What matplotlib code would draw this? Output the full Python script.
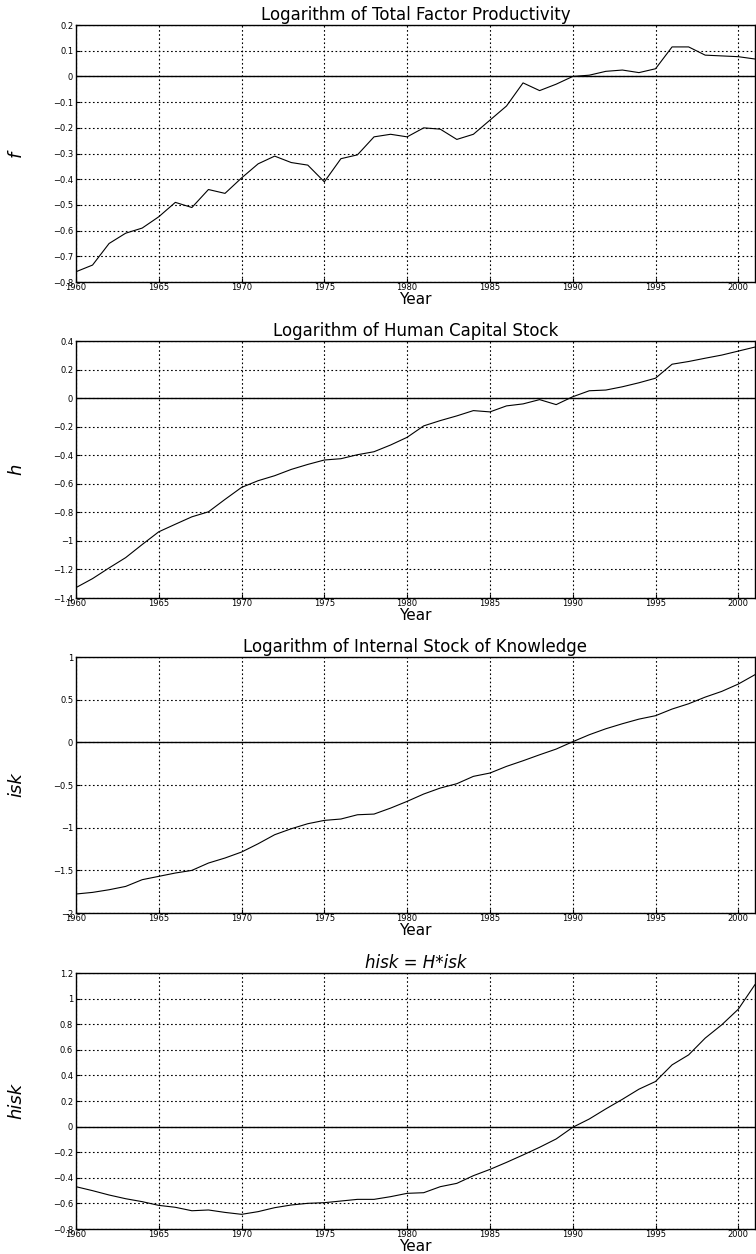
import numpy as np
import matplotlib
matplotlib.use('Agg')
import matplotlib.pyplot as plt
from matplotlib.ticker import FuncFormatter

# years (annual data 1960-2001)
years = list(range(1960, 2002))

# log of total factor productivity
f = [-0.76, -0.734, -0.65, -0.61, -0.59, -0.546, -0.49, -0.51, -0.44, -0.455,
     -0.395, -0.34, -0.31, -0.335, -0.345, -0.41, -0.32, -0.305, -0.235, -0.225,
     -0.235, -0.20, -0.205, -0.245, -0.225, -0.17, -0.115, -0.025, -0.055, -0.03,
     0.0, 0.005, 0.02, 0.025, 0.015, 0.03, 0.115, 0.115, 0.083, 0.08,
     0.077, 0.068]

# log of human capital stock
h = [-1.327, -1.264, -1.189, -1.117, -1.025, -0.936, -0.883, -0.831, -0.796, -0.709,
     -0.625, -0.578, -0.543, -0.499, -0.464, -0.433, -0.424, -0.396, -0.375, -0.328,
     -0.274, -0.194, -0.157, -0.124, -0.087, -0.096, -0.054, -0.04, -0.01, -0.045,
     0.01, 0.052, 0.057, 0.08, 0.108, 0.14, 0.238, 0.257, 0.28, 0.302,
     0.33, 0.358]

# log of internal stock of knowledge
isk = [-1.777, -1.758, -1.727, -1.688, -1.609, -1.57, -1.531, -1.5, -1.414, -1.355,
       -1.285, -1.188, -1.082, -1.012, -0.953, -0.914, -0.898, -0.848, -0.84, -0.77,
       -0.691, -0.605, -0.535, -0.484, -0.398, -0.359, -0.281, -0.215, -0.145, -0.078,
       0.008, 0.09, 0.16, 0.219, 0.273, 0.313, 0.391, 0.453, 0.531, 0.598,
       0.684, 0.793]

# hisk = H*isk
hisk = [-0.469, -0.5, -0.534, -0.563, -0.586, -0.615, -0.63, -0.657, -0.651, -0.67,
        -0.685, -0.664, -0.633, -0.612, -0.599, -0.594, -0.581, -0.568, -0.568, -0.547,
        -0.521, -0.516, -0.469, -0.443, -0.383, -0.334, -0.279, -0.221, -0.161, -0.096,
        -0.005, 0.06, 0.139, 0.214, 0.293, 0.353, 0.483, 0.561, 0.692, 0.796,
        0.918, 1.109]

titles = ['Logarithm of Total Factor Productivity',
          'Logarithm of Human Capital Stock',
          'Logarithm of Internal Stock of Knowledge',
          'hisk = H*isk']
ylabels = ['f', 'h', 'isk', 'hisk']
yranges = [(-0.8, 0.2, 0.1), (-1.4, 0.4, 0.2), (-2, 1, 0.5), (-0.8, 1.2, 0.2)]
series = [f, h, isk, hisk]
xticks = list(range(1960, 2001, 5))

def fmt(v, pos):
    v = round(v, 2)
    if abs(v) < 1e-9:
        return '0'
    return ('%g' % v).replace('-', '\u2212')

fig = plt.figure(figsize=(7.56, 12.54), dpi=100)
bottoms = [0.7751, 0.5231, 0.2719, 0.0199]
heights = [0.2049, 0.2049, 0.2041, 0.2041]

for i in range(4):
    ax = fig.add_axes([0.1005, bottoms[i], 0.898, heights[i]])
    lo, hi, step = yranges[i]
    ax.plot(years, series[i], color='black', lw=0.8)
    ax.axhline(0, color='black', lw=1.0)
    ax.set_xlim(1960, 2001)
    ax.set_ylim(lo, hi)
    ax.set_xticks(xticks)
    ax.set_yticks(np.arange(lo, hi + step / 2, step))
    ax.yaxis.set_major_formatter(FuncFormatter(fmt))
    ax.grid(True, color='black', linestyle=(0, (1.5, 2.2)), lw=0.8)
    ax.tick_params(direction='in', length=3, labelsize=6, pad=2)
    ax.tick_params(axis='x', pad=1)
    for sp in ax.spines.values():
        sp.set_linewidth(1.0)
    if i == 3:
        ax.set_title(titles[i], fontsize=12, style='italic', pad=4)
    else:
        ax.set_title(titles[i], fontsize=12, pad=4)
    ax.set_xlabel('Year', fontsize=11, labelpad=0)
    ax.set_ylabel(ylabels[i], fontsize=13, style='italic')
    ax.yaxis.set_label_coords(-0.075, 0.5)

fig.savefig('out.png', dpi=100)
